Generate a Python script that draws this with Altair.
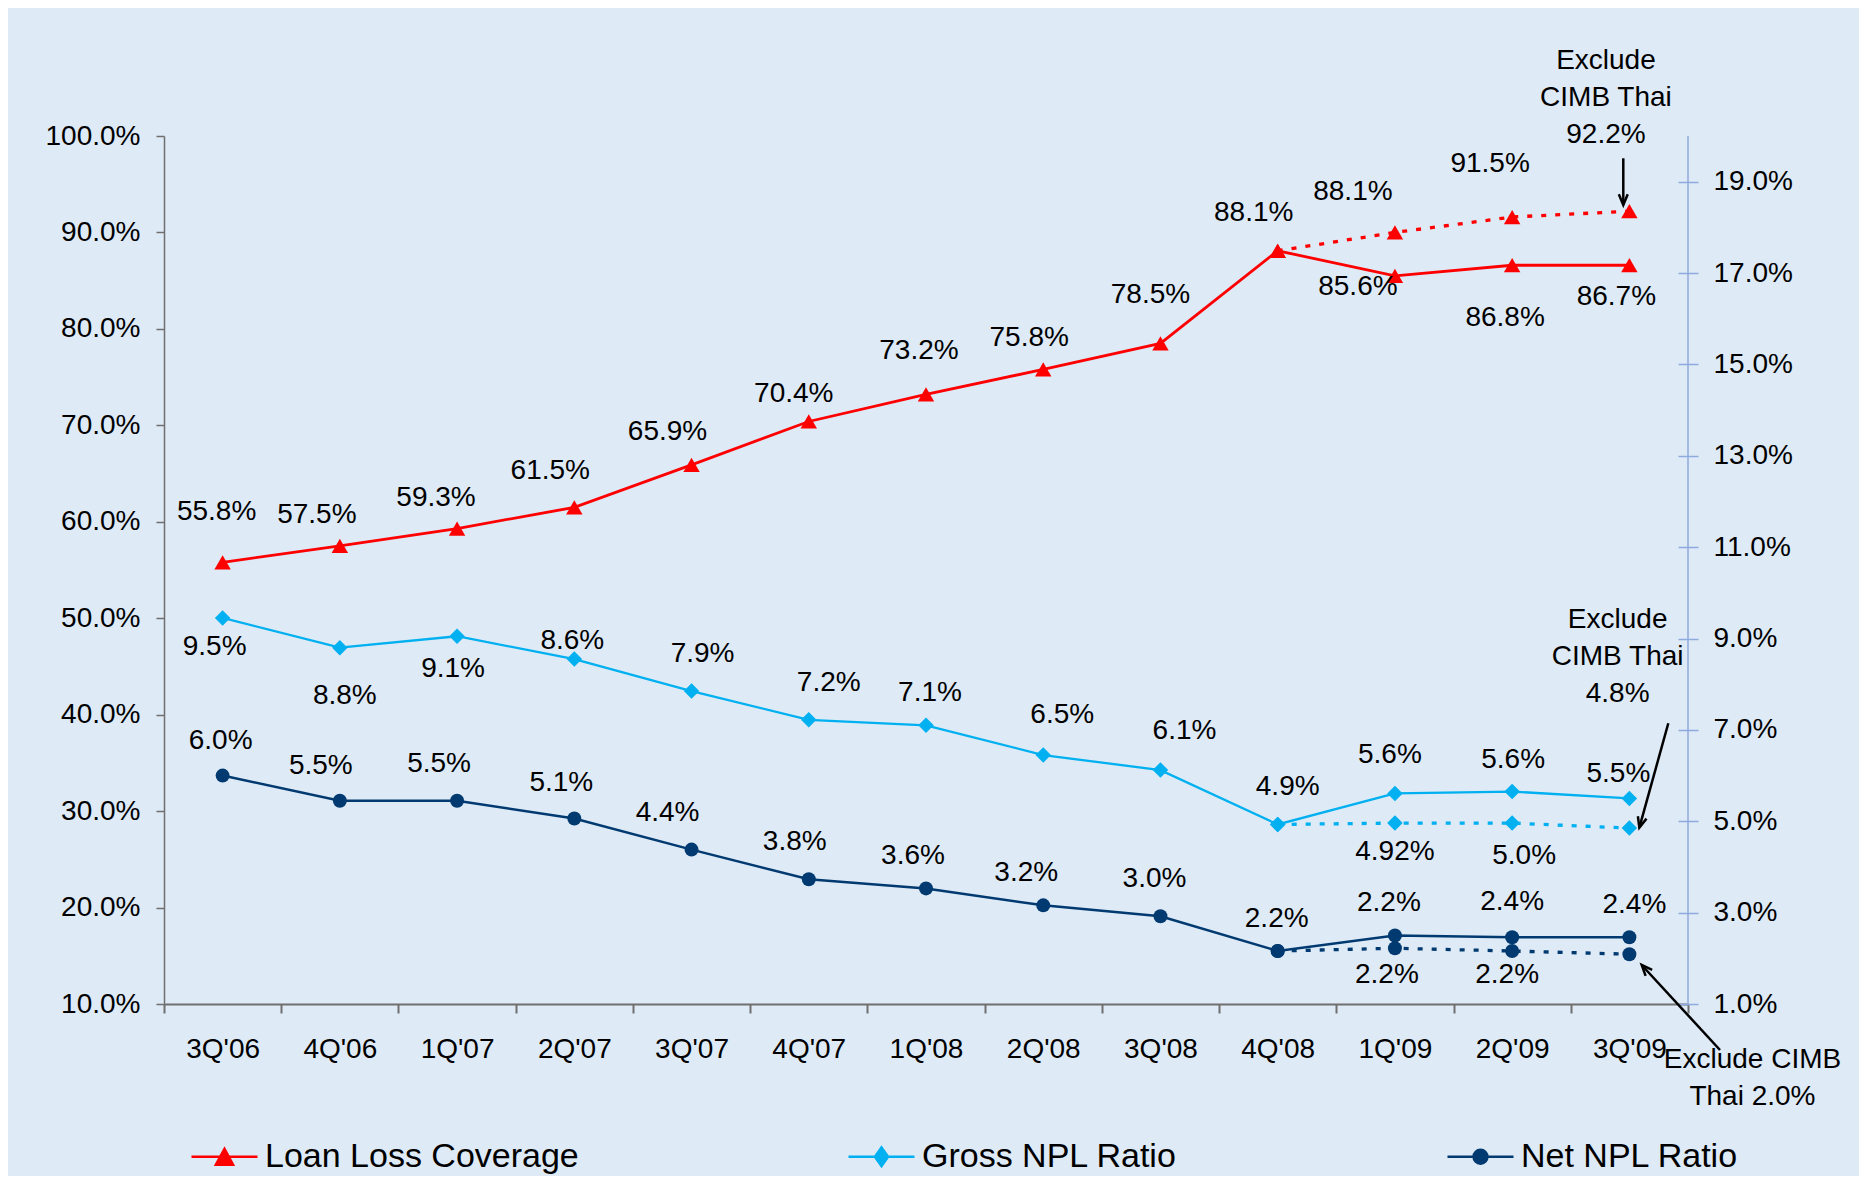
import json
import math
import altair as alt
import pandas as pd

# ---------------- data ----------------
quarters = ["3Q'06", "4Q'06", "1Q'07", "2Q'07", "3Q'07", "4Q'07", "1Q'08",
            "2Q'08", "3Q'08", "4Q'08", "1Q'09", "2Q'09", "3Q'09"]
ex_quarters = ["4Q'08", "1Q'09", "2Q'09", "3Q'09"]
series_names = ["Loan Loss Coverage", "Gross NPL Ratio", "Net NPL Ratio"]

loan_coverage = [55.8, 57.5, 59.3, 61.5, 65.9, 70.4, 73.2, 75.8, 78.5, 88.1, 85.5, 86.6, 86.6]
loan_labels = ["55.8%", "57.5%", "59.3%", "61.5%", "65.9%", "70.4%", "73.2%",
               "75.8%", "78.5%", "88.1%", "85.6%", "86.8%", "86.7%"]
loan_ex = [88.1, 90.0, 91.6, 92.2]
loan_ex_labels = ["", "88.1%", "91.5%", ""]

gross_npl = [9.45, 8.8, 9.05, 8.55, 7.85, 7.22, 7.1, 6.45, 6.12, 4.93, 5.61, 5.65, 5.5]
gross_labels = ["9.5%", "8.8%", "9.1%", "8.6%", "7.9%", "7.2%", "7.1%",
                "6.5%", "6.1%", "4.9%", "5.6%", "5.6%", "5.5%"]
gross_ex = [4.93, 4.96, 4.96, 4.85]
gross_ex_labels = ["", "4.92%", "5.0%", ""]

net_npl = [6.0, 5.45, 5.45, 5.06, 4.38, 3.73, 3.53, 3.16, 2.92, 2.16, 2.5, 2.46, 2.46]
net_labels = ["6.0%", "5.5%", "5.5%", "5.1%", "4.4%", "3.8%", "3.6%",
              "3.2%", "3.0%", "2.2%", "2.2%", "2.4%", "2.4%"]
net_ex = [2.16, 2.22, 2.16, 2.09]
net_ex_labels = ["", "2.2%", "2.2%", ""]

# annotation notes: anchor is the first line of each note
note_texts = ["Exclude\nCIMB Thai\n92.2%", "Exclude\nCIMB Thai\n4.8%", "Exclude CIMB\nThai 2.0%"]
note_x = [11.80, 11.90, 13.05]
note_y = [107.78, 9.406, -0.226]
note_axis = ["left", "right", "right"]

arrow_x1 = [11.948, 12.332, 12.773]
arrow_y1 = [97.69, 7.145, -0.007]
arrow_x2 = [11.948, 12.085, 12.105]
arrow_y2 = [92.85, 4.86, 1.854]
arrow_axis = ["left", "right", "right"]

# label offsets (pixels) relative to the marker
loan_dx = [-6, -23, -21, -24, -24, -15, -7, -14, -10, -24, -37, -7, -13]
loan_dy = [-50, -31, -31, -36, -33, -27, -43, -31, -48, -38, 11, 53, 32]
loan_ex_dx = [0, -42, -22, 0]
loan_ex_dy = [0, -40, -53, 0]
gross_dx = [-8, 5, -4, -2, 11, 20, 4, 19, 24, 10, -5, 1, -11]
gross_dy = [29, 48, 33, -18, -37, -37, -32, -40, -39, -37, -38, -32, -24]
gross_ex_dx = [0, 0, 12, 0]
gross_ex_dy = [0, 29, 33, 0]
net_dx = [-2, -19, -18, -13, -24, -14, -13, -17, -6, -1, -6, 0, 5]
net_dy = [-35, -35, -37, -36, -37, -37, -32, -32, -37, -32, -32, -35, -32]
net_ex_dx = [0, -8, -5, 0]
net_ex_dy = [0, 27, 24, 0]

# ---------------- style ----------------
W, H = 1524, 868
PAD = {"left": 156, "top": 128, "right": 171, "bottom": 172}
FONT = "Liberation Sans"
RED, GROSS, NET = "#FF0000", "#00B0F0", "#003A70"
BG = "#DEEAF6"
AX_GRAY, AX_BLUE = "#6F6F6F", "#8FAADC"
YL_DOM, YR_DOM = [10, 100], [1, 20]
X_PX = W / len(quarters)
YL_PX = H / (YL_DOM[1] - YL_DOM[0])
YR_PX = H / (YR_DOM[1] - YR_DOM[0])
idx = {q: i for i, q in enumerate(quarters)}

X_AXIS = alt.Axis(
    values=[k - 0.5 for k in range(len(quarters) + 1)],
    labelExpr=f"datum.value < {len(quarters) - 0.5} ? {json.dumps(quarters)}[datum.value + 0.5] : ''",
    labelOffset=X_PX / 2, labelFlush=False, labelOverlap=False, labelBound=False,
    title=None, grid=False, tickSize=9, tickWidth=2, tickColor=AX_GRAY,
    domainColor=AX_GRAY, domainWidth=2, labelFont=FONT, labelFontSize=28,
    labelColor="black", labelPadding=22,
)
YL_AXIS = alt.Axis(
    values=list(range(10, 101, 10)), labelExpr="format(datum.value, '.1f') + '%'",
    orient="left", title=None, grid=False, tickSize=8, tickWidth=1.5, tickColor=AX_GRAY,
    domainColor=AX_GRAY, domainWidth=1.5, labelFont=FONT, labelFontSize=28,
    labelColor="black", labelPadding=16,
)
YR_AXIS = alt.Axis(
    values=list(range(1, 20, 2)), labelExpr="format(datum.value, '.1f') + '%'",
    orient="right", offset=-10, domain=False, title=None, grid=False, tickSize=20,
    tickWidth=1.5, tickColor=AX_BLUE, labelFont=FONT, labelFontSize=28,
    labelColor="black", labelPadding=15,
)


def xenc(f):
    return alt.X(f"{f}:Q", scale=alt.Scale(domain=[-0.5, len(quarters) - 0.5], nice=False, zero=False), axis=X_AXIS)


def yenc(f, side):
    if side == "left":
        return alt.Y(f"{f}:Q", scale=alt.Scale(domain=YL_DOM, nice=False, zero=False), axis=YL_AXIS)
    return alt.Y(f"{f}:Q", scale=alt.Scale(domain=YR_DOM, nice=False, zero=False), axis=YR_AXIS)


def frame(qs, vals, labels, dxs, dys, side):
    ppu = YL_PX if side == "left" else YR_PX
    return pd.DataFrame({
        "q": qs, "i": [idx[q] for q in qs], "v": vals, "label": labels,
        "lx": [idx[q] + dx / X_PX for q, dx in zip(qs, dxs)],
        "ly": [v - dy / ppu for v, dy in zip(vals, dys)],
    })


def series_layers(df, df_ex, color, shape, size, width, side):
    lines = [
        alt.Chart(df).mark_line(color=color, strokeWidth=width).encode(x=xenc("i"), y=yenc("v", side)),
        alt.Chart(df_ex).mark_line(color=color, strokeWidth=3.3, strokeDash=[5, 9]).encode(
            x=xenc("i"), y=yenc("v", side)),
    ]
    pts = [
        alt.Chart(d).mark_point(shape=shape, filled=True, size=size, color=color, opacity=1).encode(
            x=xenc("i"), y=yenc("v", side))
        for d in (df, df_ex)
    ]
    lab = pd.concat([df, df_ex[df_ex["label"] != ""]], ignore_index=True)
    txt = alt.Chart(lab).mark_text(font=FONT, fontSize=28, color="black", align="center",
                                   baseline="middle").encode(
        x=xenc("lx"), y=yenc("ly", side), text="label:N")
    return lines, pts, [txt]


loan_df = frame(quarters, loan_coverage, loan_labels, loan_dx, loan_dy, "left")
loan_ex_df = frame(ex_quarters, loan_ex, loan_ex_labels, loan_ex_dx, loan_ex_dy, "left")
gross_df = frame(quarters, gross_npl, gross_labels, gross_dx, gross_dy, "right")
gross_ex_df = frame(ex_quarters, gross_ex, gross_ex_labels, gross_ex_dx, gross_ex_dy, "right")
net_df = frame(quarters, net_npl, net_labels, net_dx, net_dy, "right")
net_ex_df = frame(ex_quarters, net_ex, net_ex_labels, net_ex_dx, net_ex_dy, "right")

L_lines, L_pts, L_txt = series_layers(loan_df, loan_ex_df, RED, "triangle-up", 270, 2.8, "left")
G_lines, G_pts, G_txt = series_layers(gross_df, gross_ex_df, GROSS, "diamond", 240, 2.3, "right")
N_lines, N_pts, N_txt = series_layers(net_df, net_ex_df, NET, "circle", 195, 2.5, "right")


def notes_layer(side):
    d = pd.DataFrame({"t": note_texts, "x": note_x, "y": note_y, "s": note_axis})
    d = d[d["s"] == side]
    return alt.Chart(d).mark_text(font=FONT, fontSize=28, color="black", align="center",
                                  baseline="middle", lineBreak="\n", lineHeight=37).encode(
        x=xenc("x"), y=yenc("y", side), text="t:N")


def arrow_layers(side):
    ppu = YL_PX if side == "left" else YR_PX
    d = pd.DataFrame({"x1": arrow_x1, "y1": arrow_y1, "x2": arrow_x2, "y2": arrow_y2, "s": arrow_axis})
    d = d[d["s"] == side].copy()
    d["ang"] = [
        math.degrees(math.atan2((b - a) * X_PX, (c - e) * ppu)) % 360
        for a, b, c, e in zip(d["x1"], d["x2"], d["y2"], d["y1"])
    ]
    shaft = alt.Chart(d).mark_rule(color="black", strokeWidth=2.5).encode(
        x=xenc("x1"), x2="x2:Q", y=yenc("y1", side), y2="y2:Q")
    head = alt.Chart(d).mark_point(shape="M-0.42,1L0,0L0.42,1", filled=False, size=450,
                                   color="black", strokeWidth=2.5, opacity=1).encode(
        x=xenc("x2"), y=yenc("y2", side), angle=alt.Angle("ang:Q", scale=None))
    return [shaft, head]


# legend (through the library's legend, fed by an off-plot clipped layer)
legend_paths = [
    "M-1,0L1,0M-0.26,0.24L0,-0.24L0.26,0.24Z",
    "M-1,0L1,0M0,-0.28L0.2,0L0,0.28L-0.2,0Z",
    "M-1,0L1,0M-0.21,0A0.21,0.21,0,1,0,0.21,0A0.21,0.21,0,1,0,-0.21,0Z",
]
LEG = alt.Legend(title=None, orient="none", legendX=26, legendY=986, direction="horizontal",
                 columns=3, columnPadding=264, symbolSize=66 * 66, symbolStrokeWidth=2.5,
                 labelFont=FONT, labelFontSize=34, labelColor="black", labelOffset=6,
                 labelLimit=800, padding=0, symbolOpacity=1)
legend_df = pd.DataFrame({"series": series_names, "xo": [-5] * len(series_names)})
legend_layer = alt.Chart(legend_df).mark_point(filled=True, clip=True, strokeWidth=2.5).encode(
    x=xenc("xo"),
    fill=alt.Fill("series:N", scale=alt.Scale(domain=series_names, range=[RED, GROSS, NET]), legend=LEG),
    stroke=alt.Stroke("series:N", scale=alt.Scale(domain=series_names, range=[RED, GROSS, NET]), legend=LEG),
    shape=alt.Shape("series:N", scale=alt.Scale(domain=series_names, range=legend_paths), legend=LEG),
)

right_domain = alt.Chart(pd.DataFrame({"xr": [len(quarters) - 0.5]})).mark_rule(
    color=AX_BLUE, strokeWidth=1.5).encode(x=xenc("xr"))

left_group = alt.layer(*L_lines, *L_pts, *L_txt, notes_layer("left"), *arrow_layers("left"), legend_layer)
right_group = alt.layer(right_domain, *G_lines, *N_lines, *G_pts, *N_pts, *G_txt, *N_txt,
                        notes_layer("right"), *arrow_layers("right"))

chart = alt.layer(left_group, right_group).resolve_scale(y="independent").properties(
    width=W, height=H, padding=PAD, autosize=alt.AutoSizeParams(type="none"),
).configure(background=BG).configure_view(stroke=None)

chart.save("out.html", embed_options={"renderer": "svg", "actions": False})
